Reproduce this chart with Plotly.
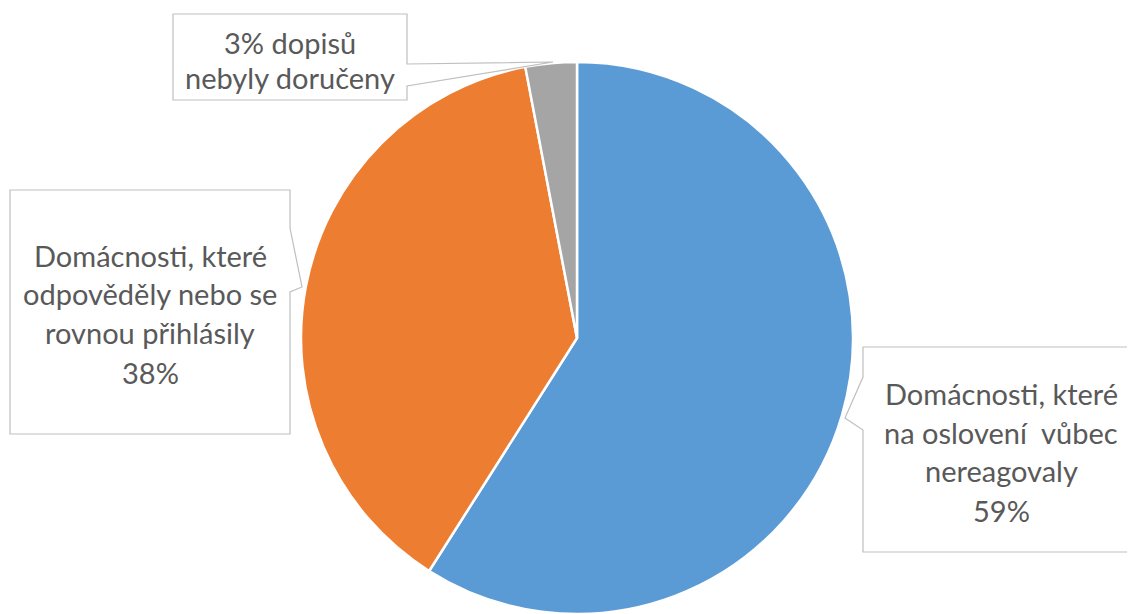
import plotly.graph_objects as go

W, H = 1135, 614
OFF = 8  # page body margin in the browser
FW, FH = W - OFF, H - OFF

labels = ["Domácnosti, které na oslovení vůbec nereagovaly",
          "Domácnosti, které odpověděly nebo se rovnou přihlásily",
          "Dopisy nebyly doručeny"]
values = [59, 38, 3]
colors = ["#5B9BD5", "#ED7D31", "#A5A5A5"]

label_right = ["Domácnosti, které", "na oslovení  vůbec", "nereagovaly", "59%"]
label_left = ["Domácnosti, které", "odpověděly nebo se", "rovnou přihlásily", "38%"]
label_top = ["3% dopisů", "nebyly doručeny"]


def px(x, y):
    # screen pixel -> paper coordinates
    return (x - OFF) / FW, 1 - (y - OFF) / FH


def path(points):
    parts = []
    for i, (x, y) in enumerate(points):
        X, Y = px(x, y)
        parts.append(("M" if i == 0 else "L") + f"{X:.5f},{Y:.5f}")
    return " ".join(parts) + " Z"


cx, top = 577, 62
r = (H - top) / 2
x0, _ = px(cx - r, 0)
x1, _ = px(cx + r, 0)
_, ytop = px(0, top)
fig = go.Figure(go.Pie(
    labels=labels, values=values, sort=False, direction="clockwise", rotation=0,
    marker=dict(colors=colors, line=dict(color="white", width=2.5)),
    textinfo="none", hoverinfo="label+percent", showlegend=False,
    domain=dict(x=[x0, x1], y=[0, ytop]),
))

box_style = dict(type="path", xref="paper", yref="paper",
                 line=dict(color="#BFBFBF", width=1.2), fillcolor="white", layer="above")
shapes = [
    dict(path=path([(173, 14), (407, 14), (407, 64), (553, 62), (407, 86), (407, 100), (173, 100)]), **box_style),
    dict(path=path([(10, 190), (290, 190), (290, 228), (302, 287), (290, 292), (290, 434), (10, 434)]), **box_style),
    dict(path=path([(863, 347), (1170, 347), (1170, 552), (863, 552), (863, 430), (845, 418), (863, 377)]), **box_style),
]

annotations = []
font = dict(family="Lato, 'Open Sans', sans-serif", size=29, color="#595959")


def add_lines(lines, xc, ys):
    for t, y in zip(lines, ys):
        X, Y = px(xc, y)
        annotations.append(dict(text=t, x=X, y=Y, xref="paper", yref="paper",
                                showarrow=False, xanchor="center", yanchor="middle", font=font))


add_lines(label_top, 290, [42, 78])
add_lines(label_left, 150, [255, 293, 332, 372])
add_lines(label_right, 1001, [393, 432, 470, 510])

fig.update_layout(width=FW, height=FH, margin=dict(l=0, r=0, t=0, b=0),
                  paper_bgcolor="white", plot_bgcolor="white",
                  shapes=shapes, annotations=annotations)
fig.write_html("out.html")
